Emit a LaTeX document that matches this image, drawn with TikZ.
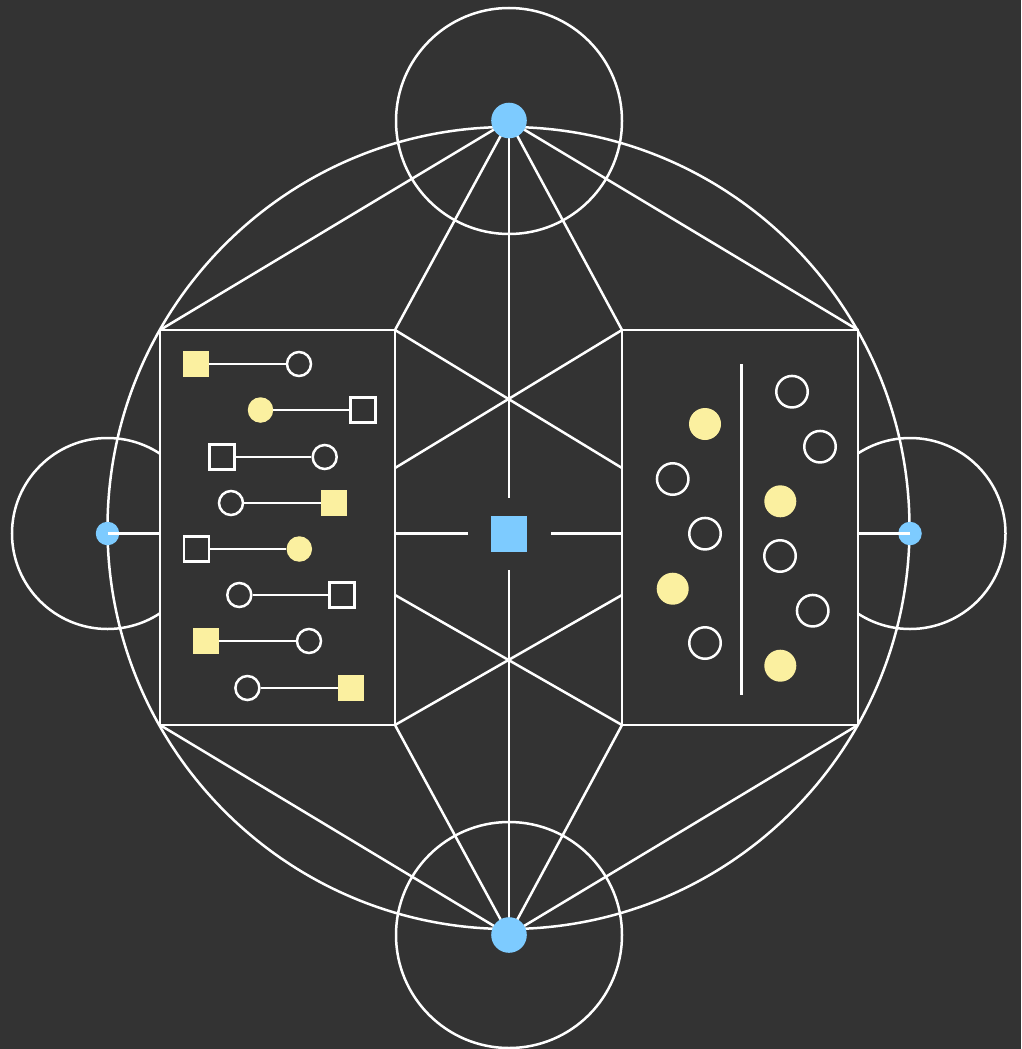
\documentclass[tikz,border=0pt]{standalone}
\definecolor{bg}{HTML}{333333}
\definecolor{dotblue}{HTML}{7DCBFF}
\definecolor{pale}{HTML}{FBF0A0}
\tikzset{
  ln/.style={draw=white, line width=2.5pt},
  bigdot/.style={circle, fill=dotblue, inner sep=0pt, minimum size=35.6pt},
  smalldot/.style={circle, fill=dotblue, inner sep=0pt, minimum size=23.5pt},
  ycirc/.style={circle, fill=pale, inner sep=0pt, minimum size=25.5pt},
  ocirc/.style={circle, draw=white, line width=2.5pt, fill=bg, inner sep=0pt, minimum size=24pt},
  ysq/.style={rectangle, fill=pale, inner sep=0pt, minimum size=26pt},
  osq/.style={rectangle, draw=white, line width=2.5pt, fill=bg, inner sep=0pt, minimum size=25pt},
  bigy/.style={circle, fill=pale, inner sep=0pt, minimum size=32pt},
  bigo/.style={circle, draw=white, line width=2.5pt, inner sep=0pt, minimum size=31.5pt},
  panel/.style={draw=white, line width=2.5pt, fill=bg},
  hub/.style={rectangle, fill=dotblue, inner sep=0pt, minimum size=36pt}
}
\begin{document}
\begin{tikzpicture}[x=1pt,y=-1pt]
\fill[bg] (0,0) rectangle (1021,1049);
\useasboundingbox (0,0) rectangle (1021,1049);

% circles
\draw[ln] (508.5,528) circle (401);
\draw[ln] (509,121) circle (113);
\draw[ln] (509,935) circle (113);
\draw[ln] (107.5,533.5) circle (95.5);
\draw[ln] (910,533.5) circle (95.5);

% corner coordinates
\coordinate (LTL) at (160,330);
\coordinate (LTR) at (395,330);
\coordinate (LBL) at (160,725);
\coordinate (LBR) at (395,725);
\coordinate (RTL) at (622,330);
\coordinate (RTR) at (858,330);
\coordinate (RBL) at (622,725);
\coordinate (RBR) at (858,725);
\coordinate (vt) at (509,498);
\coordinate (vb) at (509,570);
\coordinate (hl) at (468,533.5);
\coordinate (hr) at (551,533.5);
\coordinate (lmid) at (160,533.5);
\coordinate (rmid) at (858,533.5);
\coordinate (lA) at (395,468);
\coordinate (rA) at (622,468);
\coordinate (lB) at (395,595);
\coordinate (rB) at (622,595);

% spokes from top and bottom points
\coordinate (topc) at (509,120.5);
\coordinate (botc) at (509,935);
\foreach \c in {LTL,LTR,RTL,RTR,vt} \draw[ln] (topc) -- (\c);
\foreach \c in {LBL,LBR,RBL,RBR,vb} \draw[ln] (botc) -- (\c);

% panels
\draw[panel] (LTL) rectangle (LBR);
\draw[panel] (RTL) rectangle (RBR);

% middle cross lines
\draw[ln] (LTR) -- (rA);
\draw[ln] (RTL) -- (lA);
\draw[ln] (lB) -- (RBL);
\draw[ln] (rB) -- (LBR);
\draw[ln] (LTR |- hl) -- (hl);
\draw[ln] (hr) -- (RTL |- hr);

% side dots
\node[smalldot] (ldot) at (107.5,533.5) {};
\node[smalldot] (rdot) at (910,533.5) {};
\draw[ln] (ldot.center) -- (lmid);
\draw[ln] (rdot.center) -- (rmid);

% top / bottom dots and hub
\node[bigdot] (top) at (topc) {};
\node[bigdot] (bot) at (botc) {};
\node[hub] (hub) at (509,534) {};

% left panel dumbbells
\node[ysq]   (a1) at (196,364) {};   \node[ocirc] (b1) at (299,364) {};
\node[ycirc] (a2) at (260.5,410) {}; \node[osq]   (b2) at (363,410) {};
\node[osq]   (a3) at (222,457) {};   \node[ocirc] (b3) at (324.7,457) {};
\node[ocirc] (a4) at (231,503) {};   \node[ysq]   (b4) at (334,503) {};
\node[osq]   (a5) at (196.5,549) {}; \node[ycirc] (b5) at (299.3,549) {};
\node[ocirc] (a6) at (239.3,595) {}; \node[osq]   (b6) at (342,595) {};
\node[ysq]   (a7) at (206,641) {};   \node[ocirc] (b7) at (309,641) {};
\node[ocirc] (a8) at (247.4,688) {}; \node[ysq]   (b8) at (351,688) {};
\foreach \i in {1,...,8} \draw[ln] (a\i) -- (b\i);

% right panel
\coordinate (dtop) at (741.5,364);
\coordinate (dbot) at (741.5,695);
\draw[ln] (dtop) -- (dbot);
\node[bigy] (p1) at (705,424) {};
\node[bigo] (p2) at (672.7,479) {};
\node[bigo] (p3) at (705,533.7) {};
\node[bigy] (p4) at (672.7,588.7) {};
\node[bigo] (p5) at (705,643) {};
\node[bigo] (q1) at (792,391.7) {};
\node[bigo] (q2) at (820,446.7) {};
\node[bigy] (q3) at (780.3,501.3) {};
\node[bigo] (q4) at (780,556) {};
\node[bigo] (q5) at (812.7,610.7) {};
\node[bigy] (q6) at (780.3,665.7) {};
\end{tikzpicture}
\end{document}
